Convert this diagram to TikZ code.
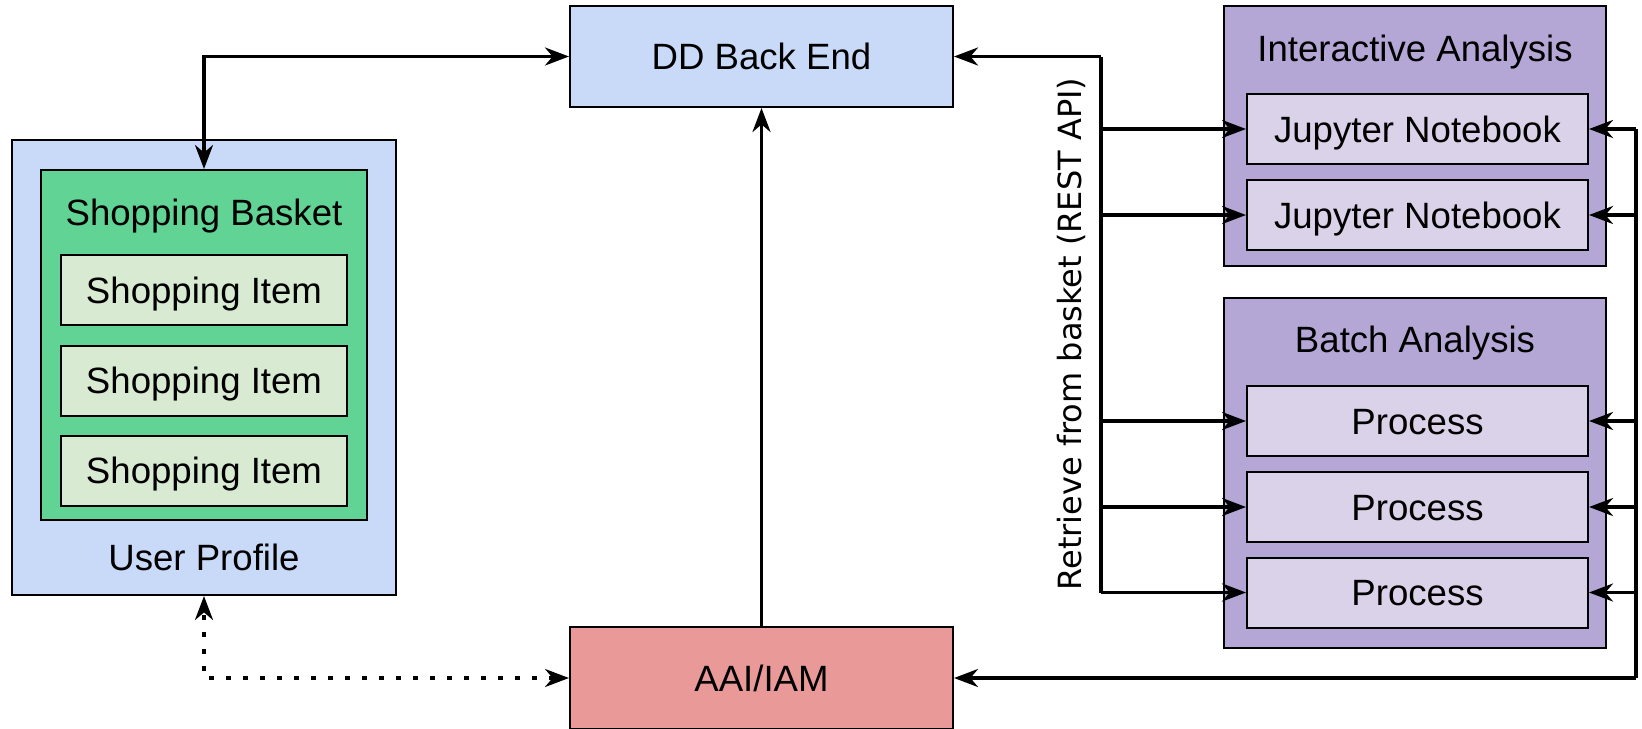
\documentclass[tikz,border=0pt]{standalone}
\usepackage{fontspec}
\setmainfont{Liberation Sans}
\newfontfamily\sidefont{DejaVu Sans}
\usepackage{tikz}
\usetikzlibrary{arrows.meta}

\definecolor{backblue}{RGB}{201,218,248}
\definecolor{basketgreen}{RGB}{97,211,149}
\definecolor{itemgreen}{RGB}{217,234,211}
\definecolor{aaired}{RGB}{234,153,153}
\definecolor{groupviolet}{RGB}{180,167,214}
\definecolor{jobviolet}{RGB}{217,210,233}

\begin{document}
\begin{tikzpicture}[x=0.5pt,y=0.5pt,yscale=-1,xscale=1,
  box/.style={draw, line width=1pt, inner sep=0pt, font=\fontsize{18.3}{22}\selectfont, text height=13.1pt, text depth=0pt},
  title/.style={inner sep=0pt, font=\fontsize{18.3}{22}\selectfont, text height=13.1pt, text depth=0pt},
  wire/.style={line width=1.7pt},
  tip/.style={-{Stealth[length=12pt,width=9pt,inset=3.8pt]}},
  twotips/.style={{Stealth[length=12pt,width=9pt,inset=3.8pt]}-{Stealth[length=12pt,width=9pt,inset=3.8pt]}},
  dots/.style={dash pattern=on 2.5pt off 6pt}
]
\useasboundingbox (0,0) rectangle (1642,728);

%Shapes
\node[box, fill=backblue, minimum width=191.5pt, minimum height=50.5pt] (dd) at (761.5,56.5) {DD Back End};
\node[box, fill=aaired, minimum width=191.5pt, minimum height=51pt] (aai) at (761.5,678) {AAI/IAM};

%Shapes
\node[box, fill=backblue, minimum width=192pt, minimum height=227.5pt] (profile) at (204,367.5) {};
\node[box, fill=basketgreen, minimum width=163pt, minimum height=175pt] (basket) at (204,345) {};
\node[box, fill=itemgreen, minimum width=143pt, minimum height=35pt] (item1) at (204,290) {Shopping Item};
\node[box, fill=itemgreen, minimum width=143pt, minimum height=35pt] (item2) at (204,380.5) {Shopping Item};
\node[box, fill=itemgreen, minimum width=143pt, minimum height=35pt] (item3) at (204,470.5) {Shopping Item};

%Shapes
\node[box, fill=groupviolet, minimum width=191pt, minimum height=130pt] (ia) at (1415,136) {};
\node[box, fill=jobviolet, minimum width=170.5pt, minimum height=35pt] (jn1) at (1417.5,129) {Jupyter Notebook};
\node[box, fill=jobviolet, minimum width=170.5pt, minimum height=35pt] (jn2) at (1417.5,215) {Jupyter Notebook};
\node[box, fill=groupviolet, minimum width=191pt, minimum height=175pt] (ba) at (1415,473) {};
\node[box, fill=jobviolet, minimum width=170.5pt, minimum height=35pt] (p1) at (1417.5,421) {Process};
\node[box, fill=jobviolet, minimum width=170.5pt, minimum height=35pt] (p2) at (1417.5,507) {Process};
\node[box, fill=jobviolet, minimum width=170.5pt, minimum height=35pt] (p3) at (1417.5,592.5) {Process};

% Text Node
\node[title] (baskettitle) at (204,212) {Shopping Basket};
% Text Node
\node[title] (profiletitle) at (204,557.5) {User Profile};
% Text Node
\node[title] (iatitle) at (1415,48) {Interactive Analysis};
% Text Node
\node[title] (batitle) at (1415,339) {Batch Analysis};
% Text Node
\node[inner sep=0pt, rotate=90, font=\sidefont\fontsize{16}{19}\selectfont, text height=11.7pt, text depth=0pt] (restlabel) at (1070,334) {Retrieve from basket (REST API)};

%Straight Lines
\draw[wire, twotips] (dd.west) -| (basket.north);
\draw[wire, tip] (aai) -- (dd);
\draw[wire, twotips, dots] (aai.west) -| (profile.south);

%Straight Lines
\coordinate (bustop) at (1101,56.5);
\coordinate (busbot) at (1101,592.5);
\draw[wire, tip] (bustop) -- (dd.east);
\draw[wire] (bustop) -- (busbot);
\foreach \job in {jn1,jn2,p1,p2,p3}
  \draw[wire, tip] (bustop |- \job.west) -- (\job.west);

%Straight Lines
\coordinate (rbusbot) at (1636,678);
\draw[wire, tip] (rbusbot) -- (aai.east);
\draw[wire] (rbusbot) -- (rbusbot |- jn1.east);
\foreach \job in {jn1,jn2,p1,p2,p3}
  \draw[wire, tip] (rbusbot |- \job.east) -- (\job.east);

\end{tikzpicture}
\end{document}
